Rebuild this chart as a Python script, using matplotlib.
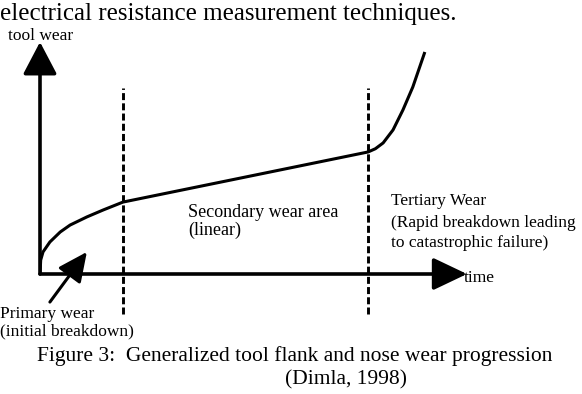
import matplotlib
matplotlib.use("Agg")
import matplotlib.pyplot as plt
from matplotlib.patches import FancyArrowPatch

W, H = 582, 394

# tool wear progression curve (time, wear)
primary_t = [0.0, 0.016, 0.07, 0.23, 0.47, 0.70, 1.09, 1.47, 1.93]
primary_w = [0.0, 0.60, 0.95, 1.38, 1.81, 2.11, 2.46, 2.76, 3.10]
secondary_t = [1.93, 7.63]
secondary_w = [3.10, 5.26]
tertiary_t = [7.63, 7.80, 7.98, 8.21, 8.44, 8.67, 8.95]
tertiary_w = [5.26, 5.40, 5.65, 6.21, 7.07, 8.06, 9.57]

# stage boundaries (dashed lines)
boundary_t = [1.93, 7.62]
boundary_top = 8.02
boundary_bottom = -1.72

# arrow pointing at primary wear region
primary_arrow_tail = (0.23, -1.21)
primary_arrow_tip = (1.09, 0.95)

t = primary_t + secondary_t[1:] + tertiary_t[1:]
w = primary_w + secondary_w[1:] + tertiary_w[1:]

plt.rcParams['font.family'] = ['Liberation Serif', 'DejaVu Serif']

fig = plt.figure(figsize=(W / 100, H / 100), dpi=100)
fig.patch.set_facecolor('white')


def px(x, y):
    return x / W, 1 - y / H


# origin of the axes at pixel (40, 274)
ax = fig.add_axes([40 / W, 1 - 274 / H, 430 / W, 232 / H])
ax.set_xlim(0, 10)
ax.set_ylim(0, 10)
ax.axis('off')

ax.plot(t, w, color='black', lw=2.2, solid_capstyle='butt', zorder=3)

for bt in boundary_t:
    ax.plot([bt, bt], [boundary_bottom, boundary_top], color='black', lw=2.1,
            dashes=(2.4, 1.1), clip_on=False, zorder=2)

# axes arrows
ya = FancyArrowPatch((0, 0), (0, 10), arrowstyle='-|>,head_length=20,head_width=10.5',
                     mutation_scale=1, color='black', lw=2.6, shrinkA=0, shrinkB=0,
                     clip_on=False, zorder=4)
xa = FancyArrowPatch((0, 0), (9.93, 0), arrowstyle='-|>,head_length=21,head_width=10',
                     mutation_scale=1, color='black', lw=2.6, shrinkA=0, shrinkB=0,
                     clip_on=False, zorder=4)
pa = FancyArrowPatch(primary_arrow_tail, primary_arrow_tip,
                     arrowstyle='-|>,head_length=18,head_width=8.5',
                     mutation_scale=1, color='black', lw=2.2, shrinkA=0, shrinkB=0,
                     clip_on=False, zorder=4)
for a in (ya, xa, pa):
    ax.add_patch(a)

# texts
fig.text(*px(0, 20), "electrical resistance measurement techniques.", fontsize=18,
         va='baseline', ha='left')
fig.text(*px(8, 40), "tool wear", fontsize=12.5, va='baseline', ha='left')
fig.text(*px(464, 282), "time", fontsize=12.5, va='baseline', ha='left')
fig.text(*px(188, 217), "Secondary wear area", fontsize=13, va='baseline', ha='left')
fig.text(*px(188, 235), "(linear)", fontsize=13, va='baseline', ha='left')
fig.text(*px(391, 205), "Tertiary Wear", fontsize=12.5, va='baseline', ha='left')
fig.text(*px(391, 227), "(Rapid breakdown leading", fontsize=12.5, va='baseline', ha='left')
fig.text(*px(391, 247), "to catastrophic failure)", fontsize=12.5, va='baseline', ha='left')
fig.text(*px(0, 318), "Primary wear", fontsize=12.5, va='baseline', ha='left')
fig.text(*px(0, 335), "(initial breakdown)", fontsize=12.5, va='baseline', ha='left')
fig.text(*px(37, 361), "Figure 3:  Generalized tool flank and nose wear progression",
         fontsize=15.5, va='baseline', ha='left')
fig.text(*px(285, 384), "(Dimla, 1998)", fontsize=15.5, va='baseline', ha='left')

fig.savefig('out.png', dpi=100)
